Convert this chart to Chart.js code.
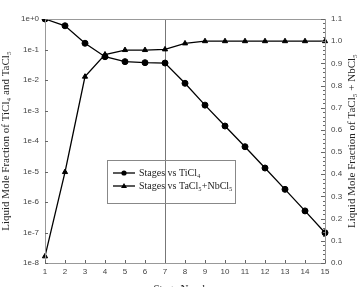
<!DOCTYPE html>
<html>
<head>
<meta charset="utf-8">
<script src="https://cdn.jsdelivr.net/npm/chart.js@4"></script>
<style>
  html, body { margin: 0; padding: 0; background: #fff; }
  #wrap { width: 359px; height: 287px; }
</style>
</head>
<body>
<div id="wrap"><canvas id="js--chart"></canvas></div>
<script>
const stages = ["1","2","3","4","5","6","7","8","9","10","11","12","13","14","15"];
const ticl4 = [1, 0.6, 0.16, 0.058, 0.040, 0.037, 0.036, 0.0078, 0.0015, 0.00031, 0.000065, 0.000013, 0.0000026, 5.1e-7, 9.8e-8];
const tacl5Nbcl5 = [0.03, 0.41, 0.84, 0.94, 0.96, 0.96, 0.963, 0.99, 1.0, 1.0, 1.0, 1.0, 1.0, 1.0, 1.0];
const logTicks = [1, 1e-1, 1e-2, 1e-3, 1e-4, 1e-5, 1e-6, 1e-7, 1e-8];
const markStage = "7";

const serif = "'Liberation Serif', 'Times New Roman', serif";
const sans = "'Liberation Sans', Arial, sans-serif";

// frame, inward ticks, stage 7 line, legend and extra titles
const extras = {
    id: "extras",
    beforeDatasetsDraw(chart) {
        const ctx = chart.ctx;
        const a = chart.chartArea;
        const x = chart.scales.x.getPixelForValue(stages.indexOf(markStage));
        ctx.save();
        ctx.strokeStyle = "#777";
        ctx.lineWidth = 1;
        ctx.beginPath();
        ctx.moveTo(x + 0.5, a.top);
        ctx.lineTo(x + 0.5, a.bottom);
        ctx.stroke();
        ctx.restore();
    },
    afterDatasetsDraw(chart) {
        const ctx = chart.ctx;
        const a = chart.chartArea;
        const sx = chart.scales.x, sy = chart.scales.y, sy1 = chart.scales.y1;
        ctx.save();
        ctx.strokeStyle = "#999";
        ctx.lineWidth = 1;
        ctx.strokeRect(a.left + 0.5, a.top + 0.5, a.right - a.left, a.bottom - a.top);

        ctx.strokeStyle = "#666";
        ctx.beginPath();
        stages.forEach(function (s, i) {
            const px = Math.round(sx.getPixelForValue(i)) + 0.5;
            ctx.moveTo(px, a.bottom);
            ctx.lineTo(px, a.bottom - 3);
        });
        logTicks.forEach(function (v) {
            const py = Math.round(sy.getPixelForValue(v)) + 0.5;
            ctx.moveTo(a.left, py);
            ctx.lineTo(a.left + 3, py);
        });
        for (let k = 0; k <= 55; k++) {
            const py = Math.round(sy1.getPixelForValue(k * 0.02)) + 0.5;
            const len = (k % 5 === 0) ? 4 : 2;
            ctx.moveTo(a.right, py);
            ctx.lineTo(a.right - len, py);
        }
        ctx.stroke();

        // legend
        const lx = 107, ly = 160, lw = 128, lh = 43;
        ctx.strokeStyle = "#888";
        ctx.strokeRect(lx + 0.5, ly + 0.5, lw, lh);
        const rows = [173, 186];
        ctx.font = "10px " + serif;
        ctx.fillStyle = "#222";
        ctx.textBaseline = "middle";
        chart.data.datasets.forEach(function (ds, i) {
            const y = rows[i];
            ctx.strokeStyle = "#000";
            ctx.lineWidth = 1.3;
            ctx.beginPath();
            ctx.moveTo(113, y);
            ctx.lineTo(135, y);
            ctx.stroke();
            ctx.fillStyle = "#000";
            ctx.beginPath();
            if (ds.pointStyle === "triangle") {
                ctx.moveTo(124, y - 3);
                ctx.lineTo(127, y + 2);
                ctx.lineTo(121, y + 2);
                ctx.closePath();
            } else {
                ctx.arc(124, y, 2.6, 0, Math.PI * 2);
            }
            ctx.fill();
            ctx.fillStyle = "#222";
            ctx.fillText(ds.label, 139, y);
        });

        // right axis title, reading bottom to top
        ctx.save();
        ctx.translate(352, (a.top + a.bottom) / 2);
        ctx.rotate(-Math.PI / 2);
        ctx.font = "11px " + serif;
        ctx.textAlign = "center";
        ctx.textBaseline = "middle";
        ctx.fillStyle = "#222";
        ctx.fillText("Liquid Mole Fraction of TaCl\u2085 + NbCl\u2085", 0, 0);
        ctx.restore();

        // x axis title (cut by the bottom edge)
        ctx.font = "11px " + serif;
        ctx.textAlign = "center";
        ctx.textBaseline = "middle";
        ctx.fillStyle = "#222";
        ctx.fillText("Stage Number", (a.left + a.right) / 2, 289);
        ctx.restore();
    }
};

const data = {
    labels: stages,
    datasets: [
        {
            label: "Stages vs TiCl\u2084",
            data: ticl4,
            yAxisID: "y",
            borderColor: "#000",
            backgroundColor: "#000",
            borderWidth: 1.3,
            pointStyle: "circle",
            pointRadius: 3,
            pointBorderWidth: 1,
            tension: 0
        },
        {
            label: "Stages vs TaCl\u2085+NbCl\u2085",
            data: tacl5Nbcl5,
            yAxisID: "y1",
            borderColor: "#000",
            backgroundColor: "#000",
            borderWidth: 1.3,
            pointStyle: "triangle",
            pointRadius: 3,
            pointBorderWidth: 1,
            tension: 0
        }
    ]
};

const config = {
    type: "line",
    data: data,
    plugins: [extras],
    options: {
        responsive: true,
        maintainAspectRatio: false,
        animation: false,
        layout: { padding: { top: 19 } },
        plugins: {
            legend: { display: false },
            tooltip: { enabled: false }
        },
        scales: {
            x: {
                type: "category",
                offset: false,
                grid: { display: false, drawTicks: false },
                border: { display: false },
                ticks: { color: "#444", font: { family: sans, size: 8 }, padding: 4, maxRotation: 0, autoSkip: false },
                afterFit: function (s) { s.height = 24; }
            },
            y: {
                type: "logarithmic",
                position: "left",
                min: 1e-8,
                max: 1,
                grid: { display: false, drawTicks: false },
                border: { display: false },
                afterBuildTicks: function (s) {
                    s.ticks = logTicks.map(function (v) { return { value: v }; });
                },
                ticks: {
                    color: "#444",
                    font: { family: sans, size: 8 },
                    padding: 6,
                    callback: function (v) {
                        const e = Math.round(Math.log10(v));
                        return "1e" + (e >= 0 ? "+" : "") + e;
                    }
                },
                title: {
                    display: true,
                    text: "Liquid Mole Fraction of TiCl\u2084 and TaCl\u2085",
                    color: "#222",
                    font: { family: serif, size: 11 },
                    padding: { top: 0, bottom: 0 }
                },
                afterFit: function (s) { s.width = 45; }
            },
            y1: {
                type: "linear",
                position: "right",
                min: 0,
                max: 1.1,
                grid: { display: false, drawTicks: false },
                border: { display: false },
                ticks: {
                    stepSize: 0.1,
                    color: "#444",
                    font: { family: sans, size: 8 },
                    padding: 6,
                    callback: function (v) { return v.toFixed(1); }
                },
                afterFit: function (s) { s.width = 34; }
            }
        }
    }
};

new Chart(document.getElementById("js--chart"), config);
</script>
</body>
</html>
